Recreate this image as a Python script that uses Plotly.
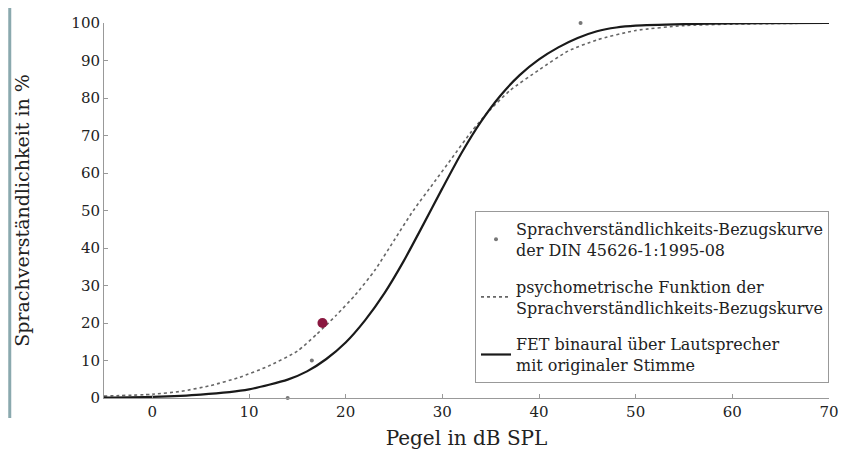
import plotly.graph_objects as go

# --- data ---
ref_x = [14.0, 16.5, 17.6, 44.3]
ref_y = [0, 10, 20, 100]

hl_x = [17.6]
hl_y = [20]

psy_x = [-5, 0, 3, 6, 9, 12, 15, 17, 19, 21, 23, 25, 27, 29, 31, 33, 35, 37, 40, 43, 46, 50, 55, 60, 70]
psy_y = [0.5, 1, 1.8, 3.3, 5.5, 8.5, 12.5, 17, 22, 27.5, 34, 42, 50, 57, 64, 71, 77, 82, 87.5, 92.5, 95.5, 98, 99.3, 99.7, 100]

fet_x = [-5, 0, 5, 10, 14, 16, 18, 20, 22, 24, 26, 28, 30, 32, 34, 36, 38, 40, 42, 44, 46, 48, 50, 55, 60, 70]
fet_y = [0.1, 0.3, 0.9, 2.3, 4.9, 7.1, 10.4, 14.8, 20.7, 27.9, 36.5, 46.1, 55.9, 65.4, 73.7, 80.6, 86.1, 90.3, 93.5, 96.0, 97.8, 98.8, 99.3, 99.7, 99.9, 100]

x_ticks = [0, 10, 20, 30, 40, 50, 60, 70]
y_ticks = [0, 10, 20, 30, 40, 50, 60, 70, 80, 90, 100]

names = [
    "Sprachverständlichkeits-Bezugskurve<br>der DIN 45626-1:1995-08",
    "psychometrische Funktion der<br>Sprachverständlichkeits-Bezugskurve",
    "FET binaural über Lautsprecher<br>mit originaler Stimme",
]

FONT = "DejaVu Serif"

fig = go.Figure()
fig.add_trace(go.Scatter(x=ref_x, y=ref_y, mode="markers", name=names[0], legendgroup="a",
                         marker=dict(size=4, color="#777777"), cliponaxis=False))
fig.add_trace(go.Scatter(x=psy_x, y=psy_y, mode="lines", name=names[1], legendgroup="b",
                         line=dict(color="#666666", width=1.6, dash="dot", shape="spline", smoothing=0.6)))
fig.add_trace(go.Scatter(x=fet_x, y=fet_y, mode="lines", name=names[2], legendgroup="c",
                         line=dict(color="#1a1a1a", width=2.2, shape="spline", smoothing=0.6),
                         cliponaxis=False))
fig.add_trace(go.Scatter(x=hl_x, y=hl_y, mode="markers", showlegend=False,
                         marker=dict(size=10, color="#8a1840")))

fig.update_layout(
    width=842, height=442,
    margin=dict(l=96, r=21, t=15, b=52),
    paper_bgcolor="white", plot_bgcolor="white",
    font=dict(family=FONT, color="#222222", size=15),
    showlegend=True,
    legend=dict(x=1.0, xanchor="right", y=0.04, yanchor="bottom",
                bgcolor="white", bordercolor="#999999", borderwidth=1,
                font=dict(family=FONT, size=16, color="#222222"),
                tracegroupgap=13, itemwidth=30),
    xaxis=dict(range=[-5, 70], tickvals=x_ticks, showline=True, linecolor="#999999",
               linewidth=1, ticks="inside", ticklen=4, tickcolor="#999999",
               showgrid=False, zeroline=False, automargin=False,
               title=dict(text="Pegel in dB SPL", font=dict(size=20), standoff=14)),
    yaxis=dict(range=[0, 100], tickvals=y_ticks, showline=True, linecolor="#999999",
               linewidth=1, ticks="inside", ticklen=4, tickcolor="#999999",
               showgrid=False, zeroline=False, automargin=False,
               title=dict(text="Sprachverständlichkeit in %", font=dict(size=19), standoff=36)),
)

# page-edge artifact on the left of the reference picture
fig.add_shape(type="line", xref="paper", yref="paper", x0=-0.130, x1=-0.130,
              y0=1.045, y1=-0.053, line=dict(color="#8aa9ae", width=3))

fig.write_html("out.html")
